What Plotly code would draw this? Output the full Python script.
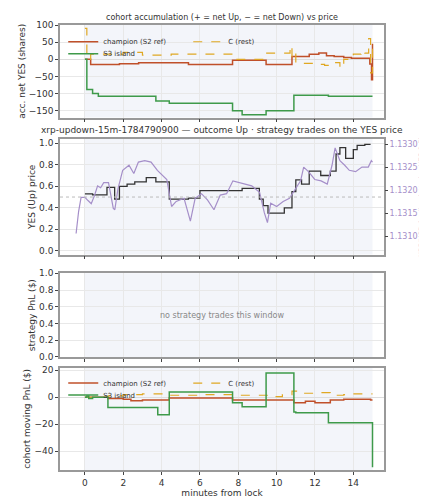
import plotly.graph_objects as go

# panel 1: accumulated net YES shares
champ_t = [0, 0.3, 1.8, 2.8, 4.6, 5.4, 7.7, 9.45, 10.8, 11.7, 12.2, 12.6, 13.0, 13.5, 13.9, 14.86, 14.95, 15.0]
champ_v = [0, -15, -13, -10, -10, -15, -3, -15, 8, 15, 18, 10, 8, 5, 3, -14, -60, 45]
crest_t = [0, 0.1, 0.3, 2.0, 3.0, 4.5, 6.0, 7.7, 9.45, 10.7, 10.8, 10.9, 11.0, 11.3, 12.0, 12.5, 13.0, 13.3, 13.5, 14.0, 14.4, 14.6, 14.8, 14.9, 15.0]
crest_v = [90, 0, 15, 20, 12, 15, 15, 0, 18, 40, 5, 18, -10, -12, -15, -18, -10, -25, 0, 15, 25, 18, 60, -40, 45]
s3_t = [0, 0.1, 0.4, 0.7, 3.7, 4.4, 7.7, 8.2, 9.45, 10.9, 12.7, 15.0]
s3_v = [0, -88, -100, -108, -122, -128, -150, -162, -150, -105, -108, -108]

# panel 2: YES price and XRP/USD
yes_t = [0, 0.4, 1.15, 1.55, 1.8, 2.2, 2.6, 3.2, 3.7, 4.4, 5.4, 6.0, 8.2, 9.1, 9.3, 9.55, 10.4, 10.8, 11.0, 11.3, 11.7, 12.3, 12.8, 13.1, 13.3, 13.6, 14.0, 14.2, 14.6, 14.9]
yes_v = [0.53, 0.52, 0.59, 0.48, 0.60, 0.62, 0.64, 0.68, 0.64, 0.48, 0.49, 0.56, 0.58, 0.48, 0.42, 0.35, 0.40, 0.55, 0.66, 0.62, 0.74, 0.70, 0.74, 0.90, 0.96, 0.86, 0.94, 0.98, 0.99, 0.99]
xrp_t = [-0.46, -0.33, -0.2, 0, 0.16, 0.33, 0.5, 0.66, 0.82, 0.98, 1.23, 1.48, 1.56, 1.72, 1.97, 2.3, 2.55, 2.79, 3.12, 3.45, 3.78, 4.27, 4.52, 4.76, 5.17, 5.5, 5.75, 6.08, 6.4, 6.73, 7.06, 7.39, 7.72, 8.05, 8.37, 8.7, 9.11, 9.36, 9.52, 9.69, 10.0, 10.34, 10.67, 11.0, 11.25, 11.41, 11.66, 11.99, 12.32, 12.64, 12.89, 13.05, 13.3, 13.55, 13.79, 14.12, 14.45, 14.78, 14.94, 15.0]
xrp_v = [1.13106, 1.13154, 1.13185, 1.13185, 1.13178, 1.13171, 1.13189, 1.13210, 1.13206, 1.13217, 1.13217, 1.13161, 1.13158, 1.13203, 1.13244, 1.13255, 1.13237, 1.13262, 1.13265, 1.13262, 1.13244, 1.13224, 1.13165, 1.13176, 1.13183, 1.13133, 1.13183, 1.13193, 1.13179, 1.13158, 1.13190, 1.13193, 1.13221, 1.13217, 1.13214, 1.13210, 1.13196, 1.13151, 1.13130, 1.13172, 1.13165, 1.13176, 1.13183, 1.13203, 1.13221, 1.13251, 1.13241, 1.13224, 1.13221, 1.13214, 1.13255, 1.13293, 1.13265, 1.13255, 1.13244, 1.13241, 1.13251, 1.13251, 1.13265, 1.13262]

# panel 4: cohort moving PnL
s3p_t = [0, 0.1, 0.2, 0.4, 1.2, 3.8, 4.4, 7.7, 8.2, 9.45, 10.9, 11.0, 12.7, 14.98, 15.0]
s3p_v = [0, 1, -1, 0, -7.5, -13, 4, -4, -7, 18, -11, -11.5, -19, -19, -52]
chp_t = [0, 1.2, 2.0, 2.4, 3.0, 4.4, 7.7, 10.9, 11.5, 12.0, 12.8, 13.5, 14.9, 15.0]
chp_v = [0, -1, -1.5, -2.5, -2, -0.5, -2, -4, -3, -4, -2, -1.5, -2, -2]
crp_t = [0, 1.2, 2.0, 3.0, 4.4, 6.0, 7.7, 9.5, 10.3, 10.8, 11.3, 12.0, 12.8, 13.5, 14.0, 15.0]
crp_v = [0, 1, 2, 2.5, 1.5, 2, 1.5, 0.5, 2, 4.5, 3, 3.5, 1.5, 2, 2.5, 2.5]

RED, GOLD, GREEN, PURPLE = "#c0502a", "#e0a823", "#3e9a4a", "#a58fc9"
F = "DejaVu Sans"

fig = go.Figure()

def step(x, y, name, color, xa, ya, dash="solid", legend="legend", show=True, w=1.5):
    fig.add_trace(go.Scatter(x=x, y=y, name=name, mode="lines", line_shape="hv",
                             line=dict(color=color, width=w, dash=dash),
                             xaxis=xa, yaxis=ya, legend=legend, showlegend=show))

step(champ_t, champ_v, "champion (S2 ref)", RED, "x", "y")
step(crest_t, crest_v, "C (rest)", GOLD, "x", "y", dash="dash", w=1.2)
step(s3_t, s3_v, "S3 island", GREEN, "x", "y", legend="legend3")

fig.add_trace(go.Scatter(x=xrp_t, y=xrp_v, mode="lines", line=dict(color=PURPLE, width=1.2),
                         xaxis="x2", yaxis="y5", showlegend=False))
step(yes_t, yes_v, "YES", "#333333", "x2", "y2", show=False, w=1.3)

step(chp_t, chp_v, "champion (S2 ref)", RED, "x4", "y4", legend="legend2")
step(crp_t, crp_v, "C (rest)", GOLD, "x4", "y4", dash="dash", legend="legend2", w=1.2)
step(s3p_t, s3p_v, "S3 island", GREEN, "x4", "y4", legend="legend4")

ax = dict(range=[-1.3, 15.6], showgrid=True, gridcolor="#e8e8e8", showline=True, mirror=True,
          linecolor="#999", linewidth=1.5, ticks="outside", ticklen=3, dtick=2,
          tickfont=dict(size=9, color="#333"), zeroline=False)
ay = dict(showgrid=True, gridcolor="#e8e8e8", showline=True, mirror=True, linecolor="#999",
          linewidth=1.5, ticks="outside", ticklen=3, tickfont=dict(size=9, color="#333"),
          zeroline=True, zerolinecolor="#dddddd", zerolinewidth=1)

doms = [[0.792, 1.0], [0.484, 0.744], [0.254, 0.442], [0.0, 0.23]]
lay = dict(width=427, height=500, margin=dict(l=38, r=44, t=12, b=27),
           plot_bgcolor="white", paper_bgcolor="white", font=dict(family=F, size=9, color="#333"))
for i in range(4):
    s = "" if i == 0 else str(i + 1)
    xa = dict(ax, anchor="y" + s, domain=[0, 1])
    if i < 3:
        xa["showticklabels"] = False
    else:
        xa["title"] = dict(text="minutes from lock", font=dict(size=9), standoff=2)
    lay["xaxis" + s] = xa
    lay["yaxis" + s] = dict(ay, anchor="x" + s, domain=doms[i])

lay["yaxis"].update(range=[-170, 100], dtick=50, title=dict(text="acc. net YES (shares)", font=dict(size=9), standoff=2))
lay["yaxis2"].update(range=[-0.035, 1.04], dtick=0.2, tickformat=".1f", zeroline=False,
                     title=dict(text="YES (Up) price", font=dict(size=9), standoff=2))
lay["yaxis3"].update(range=[0, 1], dtick=0.2, tickformat=".1f", zeroline=False,
                     title=dict(text="strategy PnL ($)", font=dict(size=9), standoff=2))
lay["yaxis4"].update(range=[-54, 22], dtick=20, title=dict(text="cohort moving PnL ($)", font=dict(size=9), standoff=2))
lay["yaxis5"] = dict(overlaying="y2", side="right", anchor="x2", range=[1.13060, 1.133125], dtick=0.0005,
                     tickformat=".4f", showgrid=False, ticks="outside", ticklen=3,
                     tickfont=dict(size=8, color=PURPLE),
                     title=dict(text="XRP/USD (strike dotted = YES 0.5)", font=dict(size=7, color=PURPLE), standoff=1))

def leg(y):
    return dict(x=0.01, y=y, yref="paper", xanchor="left", yanchor="top", orientation="h",
                entrywidth=80, bgcolor="rgba(0,0,0,0)", font=dict(size=7), itemwidth=30)

lay["legend"] = leg(0.995)
lay["legend3"] = leg(0.968)
lay["legend2"] = leg(0.228)
lay["legend4"] = leg(0.201)
fig.update_layout(**lay)

# shaded window 0..15 in every panel
for s in ["", "2", "3", "4"]:
    fig.add_shape(type="rect", x0=0, x1=15, y0=0, y1=1, xref="x" + s, yref=f"y{s} domain",
                  fillcolor="#eef1f8", opacity=0.7, line_width=0, layer="below")
fig.add_shape(type="line", x0=0, x1=1, y0=0.5, y1=0.5, xref="x2 domain", yref="y2",
              line=dict(color="#bbbbbb", width=1, dash="dot"))

fig.add_annotation(text="cohort accumulation (+ = net Up, − = net Down) vs price", x=0.5, y=1.0,
                   xref="paper", yref="paper", yanchor="bottom", showarrow=False, font=dict(size=8), yshift=1)
fig.add_annotation(text="xrp-updown-15m-1784790900 — outcome Up · strategy trades on the YES price",
                   x=0.5, y=0.744, xref="paper", yref="paper", yanchor="bottom", showarrow=False,
                   font=dict(size=9), yshift=2)
fig.add_annotation(text="no strategy trades this window", x=0.5, y=0.5, xref="x3 domain", yref="y3 domain",
                   showarrow=False, font=dict(size=8, color="#888"))

fig.write_html("out.html")
